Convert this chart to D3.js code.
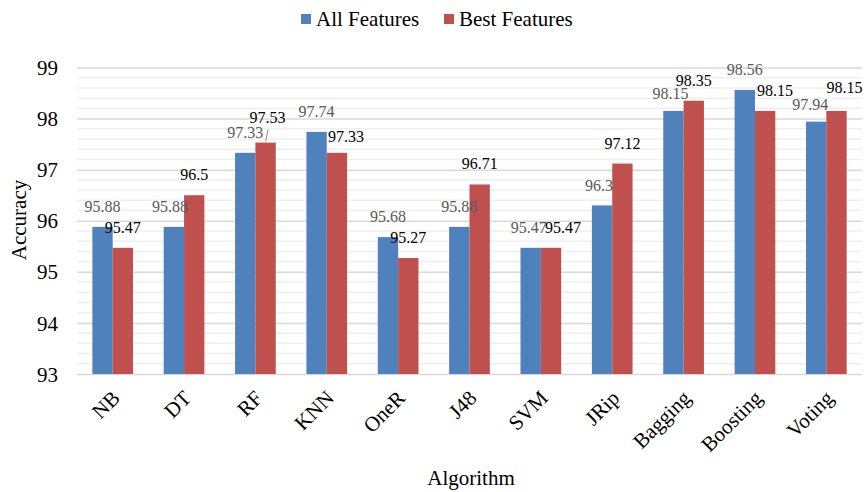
<!DOCTYPE html>
<html>
<head>
<meta charset="utf-8">
<script src="https://cdn.jsdelivr.net/npm/d3@7"></script>
<style>
  body { margin: 0; background: #fff; }
  svg text { font-family: "Liberation Serif", "Times New Roman", serif !important; }
</style>
</head>
<body>
<div id="chart"></div>
<script>
// data
var categories = ["NB", "DT", "RF", "KNN", "OneR", "J48", "SVM", "JRip", "Bagging", "Boosting", "Voting"];
var allFeatures = [95.88, 95.88, 97.33, 97.74, 95.68, 95.88, 95.47, 96.3, 98.15, 98.56, 97.94];
var bestFeatures = [95.47, 96.5, 97.53, 97.33, 95.27, 96.71, 95.47, 97.12, 98.35, 98.15, 98.15];
var seriesNames = ["All Features", "Best Features"];
var yTicks = [93, 94, 95, 96, 97, 98, 99];

var colors = ["#4F81BD", "#C0504D"];
var labelColors = ["#595959", "#000000"];
var serif = "'Liberation Serif', 'Times New Roman', serif";

// svg params
var svgWidth = 866;
var svgHeight = 492;

var svg = d3.select("#chart")
  .append("svg")
  .attr("width", svgWidth)
  .attr("height", svgHeight)
  .style("font-family", serif);

// scales
var x0 = d3.scaleBand()
  .domain(categories)
  .range([77, 862])
  .paddingInner(0.43)
  .paddingOuter(0.215);

var x1 = d3.scaleBand()
  .domain([0, 1])
  .range([0, x0.bandwidth()]);

var y = d3.scaleLinear()
  .domain([93, 99])
  .range([374, 67.5]);

// minor gridlines
var minor = d3.range(93.2, 99, 0.2).filter(v => Math.abs(v - Math.round(v)) > 0.01);
svg.append("g")
  .selectAll("line")
  .data(minor)
  .enter()
  .append("line")
  .attr("x1", 77)
  .attr("x2", 862)
  .attr("y1", d => y(d))
  .attr("y2", d => y(d))
  .attr("stroke", "#efefef")
  .attr("stroke-width", 1.5);

// major gridlines + left axis labels
var leftAxis = d3.axisLeft(y)
  .tickValues(yTicks)
  .tickSize(-785)
  .tickPadding(19)
  .tickFormat(d3.format("d"));

var yAxisG = svg.append("g")
  .attr("transform", "translate(77,0)")
  .call(leftAxis)
  .attr("font-family", serif);
yAxisG.select(".domain").remove();
yAxisG.selectAll(".tick line")
  .attr("stroke", "#d9d9d9")
  .attr("stroke-width", 1.5);
yAxisG.selectAll(".tick text")
  .attr("fill", "#000")
  .style("font-family", serif)
  .style("font-size", "21px")
  .attr("dy", "0.34em");

// bars
var rows = categories.map((c, i) => ({ cat: c, vals: [allFeatures[i], bestFeatures[i]] }));

var groups = svg.append("g")
  .selectAll("g")
  .data(rows)
  .enter()
  .append("g")
  .attr("transform", d => `translate(${x0(d.cat)},0)`);

groups.selectAll("rect")
  .data(d => d.vals.map((v, s) => ({ v: v, s: s })))
  .enter()
  .append("rect")
  .attr("x", d => x1(d.s))
  .attr("y", d => y(d.v))
  .attr("width", x1.bandwidth())
  .attr("height", d => y(93) - y(d.v))
  .attr("fill", d => colors[d.s]);

// label nudges (dx, gap above bar top to baseline)
var nudge = {
  "0-1": [-4, 15], "0-6": [-2, 15], "0-7": [-3, 14], "0-8": [-3, 12], "0-10": [-6, 11.6],
  "1-2": [2, 20], "1-3": [9, 11], "1-6": [12, 15], "1-9": [10, 15], "1-10": [8, 17.5]
};

categories.forEach(function(c, i) {
  [allFeatures[i], bestFeatures[i]].forEach(function(v, s) {
    var n = nudge[s + "-" + i] || [0, 15];
    var cx = x0(c) + x1(s) + x1.bandwidth() / 2;
    svg.append("text")
      .attr("x", cx + n[0])
      .attr("y", y(v) - n[1])
      .attr("text-anchor", "middle")
      .attr("fill", labelColors[s])
      .style("font-family", serif)
      .style("font-size", "16px")
      .text(v);
  });
});

// leader line for RF best features
var rfX = x0("RF") + x1(1) + x1.bandwidth() / 2;
svg.append("line")
  .attr("x1", rfX)
  .attr("y1", y(bestFeatures[2]) - 1)
  .attr("x2", rfX + 2.5)
  .attr("y2", y(bestFeatures[2]) - 13)
  .attr("stroke", "#8c8c8c")
  .attr("stroke-width", 1);

// category labels
svg.append("g")
  .selectAll("text")
  .data(categories)
  .enter()
  .append("text")
  .attr("transform", d => `translate(${x0(d) + x0.bandwidth() / 2 - 2},${389}) rotate(-45)`)
  .attr("text-anchor", "end")
  .attr("dy", "0.7em")
  .style("font-family", serif)
  .style("font-size", "21px")
  .attr("fill", "#000")
  .text(d => d);

// axis titles
svg.append("text")
  .attr("x", 471)
  .attr("y", 485)
  .attr("text-anchor", "middle")
  .style("font-family", serif)
  .style("font-size", "21px")
  .text("Algorithm");

svg.append("text")
  .attr("transform", "translate(26,220) rotate(-90)")
  .attr("text-anchor", "middle")
  .style("font-family", serif)
  .style("font-size", "21px")
  .text("Accuracy");

// legend
var legendX = [301, 444];
seriesNames.forEach(function(name, s) {
  svg.append("rect")
    .attr("x", legendX[s])
    .attr("y", 14)
    .attr("width", 10)
    .attr("height", 10)
    .attr("fill", colors[s]);
  svg.append("text")
    .attr("x", legendX[s] + 15)
    .attr("y", 26)
    .style("font-family", serif)
    .style("font-size", "21px")
    .text(name);
});
</script>
</body>
</html>
